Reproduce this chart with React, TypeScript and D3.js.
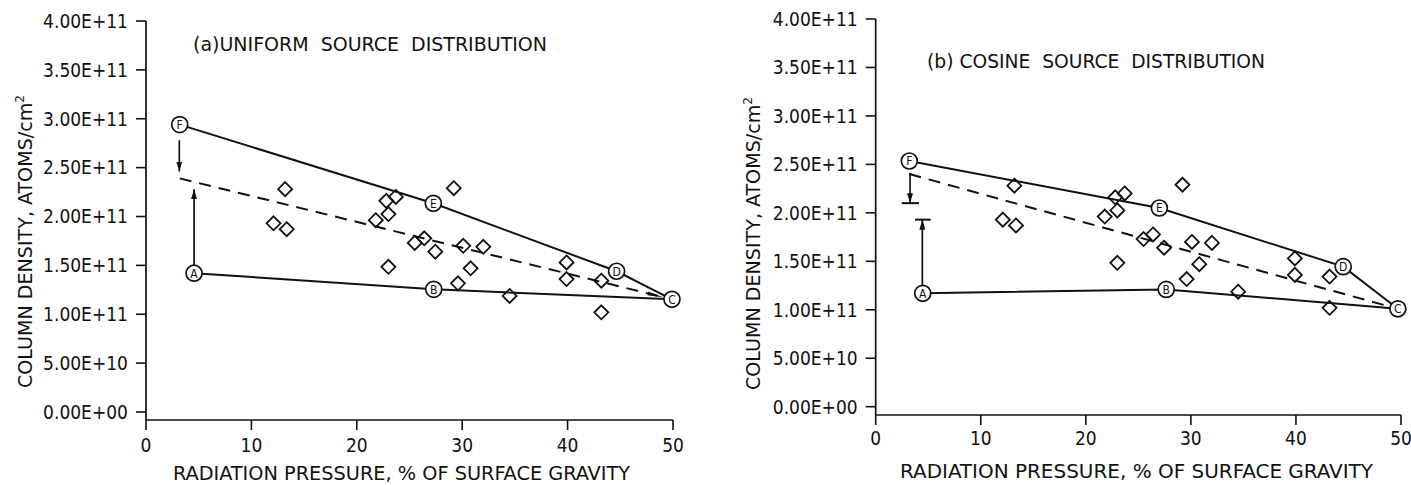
import * as d3 from "d3";

// observed column densities (same set in both panels)
const obsX = [13.2, 12.1, 13.35, 29.2, 23.7, 22.8, 23.0, 21.8, 26.4, 25.5, 27.45, 30.1, 32.0, 23.0, 30.8, 29.6, 34.5, 39.9, 39.9, 43.2, 43.2];
const obsY = [2.28, 1.93, 1.87, 2.29, 2.2, 2.16, 2.025, 1.962, 1.777, 1.73, 1.64, 1.70, 1.69, 1.485, 1.47, 1.317, 1.187, 1.53, 1.36, 1.343, 1.02].map((v) => v * 1e11);

const xTicks = [0, 10, 20, 30, 40, 50];
const yTicks = [0, 5e10, 1e11, 1.5e11, 2e11, 2.5e11, 3e11, 3.5e11, 4e11];
const yTickLabelsA = ["0.00E+00", "5.00E+10", "1.00E+11", "1.50E+11", "2.00E+11", "2.50E+11", "3.00E+11", "3.50E+11", "4.00E+11"];
const yTickLabelsB = ["0.00E+00", "5.00E+10", "1.00E+11", "1.50E+11", "2.00E+11", "2.50E+11", "3.00E+11", "3.50E+11", "4.00E+11"];

// model curves, letters F E D C (upper) and A B C (lower)
const upperNames = ["F", "E", "D", "C"];
const lowerNames = ["A", "B", "C"];
const upperXA = [3.2, 27.26, 44.65, 49.9];
const upperYA = [2.94e11, 2.135e11, 1.44e11, 1.153e11];
const lowerXA = [4.56, 27.3, 49.9];
const lowerYA = [1.42e11, 1.255e11, 1.153e11];
const dashXA = [3.2, 49.9];
const dashYA = [2.39e11, 1.153e11];

const upperXB = [3.2, 27.0, 44.5, 49.7];
const upperYB = [2.535e11, 2.05e11, 1.445e11, 1.01e11];
const lowerXB = [4.48, 27.65, 49.7];
const lowerYB = [1.17e11, 1.21e11, 1.01e11];
const dashXB = [3.2, 49.7];
const dashYB = [2.4e11, 1.01e11];

// arrows: [x, yFrom, yTo]
const arrowDownA = [3.16, 2.78e11, 2.46e11];
const arrowUpA = [4.56, 1.5e11, 2.28e11];
const arrowDownB = [3.27, 2.41e11, 2.1e11];
const arrowUpB = [4.44, 1.25e11, 1.93e11];
// bars: [x1, x2, y]
const barsB = [[2.48, 4.12, 2.1e11], [3.74, 5.24, 1.93e11]];

const FONT = "'DejaVu Sans Condensed', 'DejaVu Sans', sans-serif";
const INK = "#111";

type PanelProps = {
  id: string;
  x0: number; x1: number; yBot: number; yTop: number; axisY: number;
  yLabels: string[];
  title: string; titleX: number; titleY: number; titleLen: number;
  xLab: number[]; yLab: number[];
  upperX: number[]; upperY: number[]; lowerX: number[]; lowerY: number[];
  dashX: number[]; dashY: number[]; dashArrow: boolean;
  arrowDown: number[]; arrowUp: number[]; bars: number[][];
  tickLabelY: number;
};

const Panel = (p: PanelProps) => {
  const x = d3.scaleLinear().domain([0, 50]).range([p.x0, p.x1]);
  const y = d3.scaleLinear().domain([0, 4e11]).range([p.yBot, p.yTop]);
  const line = d3.line<[number, number]>().x((d) => x(d[0])).y((d) => y(d[1]));
  const upper = d3.zip(p.upperX, p.upperY) as [number, number][];
  const lower = d3.zip(p.lowerX, p.lowerY) as [number, number][];

  // dashed line stops short of circle C
  const dx = x(p.dashX[1]) - x(p.dashX[0]);
  const dy = y(p.dashY[1]) - y(p.dashY[0]);
  const len = Math.hypot(dx, dy);
  const cut = p.dashArrow ? 9 : 7;
  const dEnd: [number, number] = [x(p.dashX[1]) - (dx / len) * cut, y(p.dashY[1]) - (dy / len) * cut];

  const diamond = (cx: number, cy: number) => {
    const r = 7;
    return `M${cx},${cy - r}L${cx + r},${cy}L${cx},${cy + r}L${cx - r},${cy}Z`;
  };

  return (
    <g fontFamily={FONT} fill={INK}>
      <defs>
        <marker id={`ah-${p.id}`} viewBox="0 0 10 6" refX="10" refY="3" markerWidth="10" markerHeight="6" markerUnits="userSpaceOnUse" orient="auto">
          <path d="M0,0L10,3L0,6Z" fill={INK} />
        </marker>
        <marker id={`ahl-${p.id}`} viewBox="0 0 16 4" refX="16" refY="2" markerWidth="16" markerHeight="4" markerUnits="userSpaceOnUse" orient="auto">
          <path d="M0,0L16,2L0,4Z" fill={INK} />
        </marker>
      </defs>

      {/* axes */}
      <line x1={p.x0} x2={p.x0} y1={y(4e11)} y2={p.axisY} stroke={INK} strokeWidth={1.7} />
      <line x1={p.x0} x2={p.x1} y1={p.axisY} y2={p.axisY} stroke={INK} strokeWidth={1.7} />
      {yTicks.map((t, i) => (
        <g key={t}>
          <line x1={p.x0 - 10} x2={p.x0} y1={y(t)} y2={y(t)} stroke={INK} strokeWidth={1.6} />
          <text x={p.x0 - 18} y={y(t)} dy="0.36em" textAnchor="end" fontSize={19}>{p.yLabels[i]}</text>
        </g>
      ))}
      {xTicks.map((t) => (
        <g key={t}>
          <line x1={x(t)} x2={x(t)} y1={p.axisY} y2={p.axisY + 10} stroke={INK} strokeWidth={1.6} />
          <text x={x(t)} y={p.tickLabelY} textAnchor="middle" fontSize={19}>{t}</text>
        </g>
      ))}

      {/* axis titles */}
      <text x={p.xLab[0]} y={p.xLab[1]} fontSize={20} textLength={p.xLab[2]} lengthAdjust="spacingAndGlyphs">
        RADIATION PRESSURE, % OF SURFACE GRAVITY
      </text>
      <text transform={`translate(${p.yLab[0]},${p.yLab[1]}) rotate(-90)`} fontSize={19} textLength={p.yLab[2]} lengthAdjust="spacingAndGlyphs">
        COLUMN DENSITY, ATOMS/cm<tspan dy={-8} fontSize={12}>2</tspan>
      </text>
      <text x={p.titleX} y={p.titleY} fontSize={19} textLength={p.titleLen} lengthAdjust="spacingAndGlyphs" style={{ whiteSpace: "pre" }}>
        {p.title}
      </text>

      {/* model lines */}
      <path d={line(upper) ?? ""} fill="none" stroke={INK} strokeWidth={2} />
      <path d={line(lower) ?? ""} fill="none" stroke={INK} strokeWidth={2} />
      <path
        d={`M${x(p.dashX[0])},${y(p.dashY[0])}L${dEnd[0]},${dEnd[1]}`}
        fill="none" stroke={INK} strokeWidth={2} strokeDasharray="12 8"
        markerEnd={p.dashArrow ? `url(#ahl-${p.id})` : undefined}
      />

      {/* arrows */}
      <line x1={x(p.arrowDown[0])} x2={x(p.arrowDown[0])} y1={y(p.arrowDown[1])} y2={y(p.arrowDown[2])} stroke={INK} strokeWidth={1.7} markerEnd={`url(#ah-${p.id})`} />
      <line x1={x(p.arrowUp[0])} x2={x(p.arrowUp[0])} y1={y(p.arrowUp[1])} y2={y(p.arrowUp[2])} stroke={INK} strokeWidth={1.7} markerEnd={`url(#ah-${p.id})`} />
      {p.bars.map((b, i) => (
        <line key={i} x1={x(b[0])} x2={x(b[1])} y1={y(b[2])} y2={y(b[2])} stroke={INK} strokeWidth={2} />
      ))}

      {/* observations */}
      {obsX.map((v, i) => (
        <path key={i} d={diamond(x(v), y(obsY[i]))} fill="none" stroke={INK} strokeWidth={1.8} />
      ))}

      {/* labelled circles */}
      {[...upper.map((d, i) => [d, upperNames[i]] as const), ...lower.slice(0, 2).map((d, i) => [d, lowerNames[i]] as const)].map(([d, n]) => (
        <g key={n} transform={`translate(${x(d[0])},${y(d[1])})`}>
          <circle r={8} fill="white" stroke={INK} strokeWidth={1.7} />
          <text textAnchor="middle" dy="0.36em" fontSize={12}>{n}</text>
        </g>
      ))}
    </g>
  );
};

export default function App() {
  return (
    <svg width={1411} height={485} style={{ position: "absolute", left: 0, top: 0, background: "white" }}>
      <Panel
        id="a" x0={146} x1={673} yBot={412} yTop={21} axisY={420}
        yLabels={yTickLabelsA}
        title={"(a)UNIFORM  SOURCE  DISTRIBUTION"} titleX={193} titleY={51} titleLen={354}
        xLab={[173, 480, 457]} yLab={[32, 388, 293]}
        upperX={upperXA} upperY={upperYA} lowerX={lowerXA} lowerY={lowerYA}
        dashX={dashXA} dashY={dashYA} dashArrow={true}
        arrowDown={arrowDownA} arrowUp={arrowUpA} bars={[]}
        tickLabelY={452}
      />
      <Panel
        id="b" x0={875.7} x1={1401} yBot={406.7} yTop={19} axisY={415}
        yLabels={yTickLabelsB}
        title={"(b) COSINE  SOURCE  DISTRIBUTION"} titleX={927} titleY={68} titleLen={338}
        xLab={[900, 478, 473]} yLab={[760, 390, 293]}
        upperX={upperXB} upperY={upperYB} lowerX={lowerXB} lowerY={lowerYB}
        dashX={dashXB} dashY={dashYB} dashArrow={false}
        arrowDown={arrowDownB} arrowUp={arrowUpB} bars={barsB}
        tickLabelY={445}
      />
    </svg>
  );
}
